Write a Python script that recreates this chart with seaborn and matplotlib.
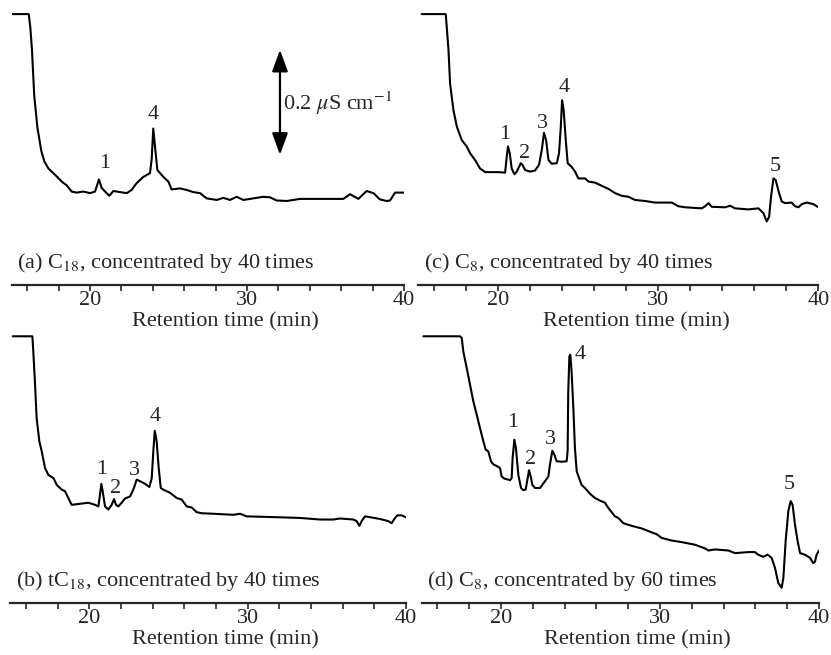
import numpy as np
import matplotlib
matplotlib.use("Agg")
import matplotlib.pyplot as plt
import seaborn as sns

# retention time (min) and conductivity signal (uS/cm, above the axis line)
a_time = [15.0, 16.1, 16.2, 16.3, 16.45, 16.65, 16.9, 17.1, 17.35, 17.77, 18.2, 18.51, 18.83, 19.15, 19.58, 20.0,
          20.32, 20.57, 20.74, 20.96, 21.23, 21.49, 21.91, 22.34, 22.65, 22.97, 23.4, 23.82, 23.93, 24.03, 24.14,
          24.29, 24.67, 24.99, 25.2, 25.73, 26.16, 26.58, 27.01, 27.43, 28.07, 28.49, 28.92, 29.34, 29.77, 30.19,
          31.04, 31.46, 31.89, 32.53, 33.38, 34.44, 35.5, 36.14, 36.56, 37.09, 37.62, 38.05, 38.47, 38.9, 39.11,
          39.43, 40.0]
a_signal = [0.516, 0.516, 0.49, 0.45, 0.36, 0.30, 0.255, 0.235, 0.222, 0.210, 0.197, 0.190, 0.178, 0.176, 0.178, 0.175,
            0.178, 0.201, 0.185, 0.178, 0.170, 0.179, 0.177, 0.175, 0.181, 0.194, 0.206, 0.213, 0.240, 0.298, 0.264,
            0.219, 0.206, 0.197, 0.182, 0.184, 0.181, 0.177, 0.175, 0.165, 0.162, 0.166, 0.162, 0.168, 0.162, 0.164,
            0.168, 0.167, 0.161, 0.160, 0.164, 0.164, 0.164, 0.164, 0.173, 0.164, 0.179, 0.175, 0.163, 0.160, 0.161,
            0.176, 0.176]

b_time = [15.16, 16.40, 16.46, 16.57, 16.67, 16.84, 16.99, 17.20, 17.41, 17.73, 17.94, 18.25, 18.46, 18.67, 18.88,
          19.41, 19.94, 20.36, 20.57, 20.67, 20.76, 20.84, 20.99, 21.20, 21.41, 21.56, 21.68, 21.83, 22.04, 22.25,
          22.57, 22.78, 22.99, 23.20, 23.52, 23.79, 23.94, 24.04, 24.13, 24.25, 24.38, 24.51, 24.67, 25.09, 25.52,
          25.83, 26.15, 26.46, 26.78, 27.09, 27.83, 29.09, 29.52, 29.94, 31.20, 33.31, 34.57, 35.41, 35.83, 36.67,
          36.88, 37.05, 37.20, 37.41, 37.62, 38.36, 38.88, 39.09, 39.24, 39.45, 39.73, 40.0]
b_signal = [0.508, 0.508, 0.479, 0.416, 0.352, 0.308, 0.289, 0.257, 0.244, 0.238, 0.225, 0.216, 0.213, 0.200, 0.187,
            0.189, 0.191, 0.187, 0.184, 0.206, 0.227, 0.213, 0.184, 0.178, 0.187, 0.198, 0.187, 0.184, 0.191, 0.199,
            0.203, 0.216, 0.235, 0.232, 0.227, 0.221, 0.238, 0.289, 0.328, 0.308, 0.257, 0.219, 0.216, 0.210, 0.200,
            0.197, 0.184, 0.182, 0.173, 0.171, 0.170, 0.168, 0.170, 0.165, 0.164, 0.162, 0.159, 0.159, 0.161, 0.159,
            0.156, 0.147, 0.156, 0.165, 0.164, 0.160, 0.156, 0.152, 0.159, 0.167, 0.167, 0.163]

c_time = [15.2, 16.71, 16.77, 16.88, 16.98, 17.19, 17.40, 17.71, 18.02, 18.23, 18.54, 18.85, 19.17, 20.0, 20.42,
          20.52, 20.60, 20.71, 20.83, 21.0, 21.15, 21.29, 21.40, 21.50, 21.67, 21.98, 22.29, 22.54, 22.71, 22.85,
          22.98, 23.13, 23.33, 23.65, 23.79, 23.90, 23.98, 24.08, 24.21, 24.33, 24.58, 24.79, 25.0, 25.42, 25.63,
          26.04, 26.46, 26.88, 27.29, 27.71, 28.13, 28.54, 29.17, 29.38, 29.79, 30.83, 31.25, 31.67, 32.71, 32.92,
          33.13, 33.33, 34.17, 34.48, 34.79, 35.63, 36.25, 36.56, 36.77, 36.92, 37.04, 37.19, 37.33, 37.54, 37.71,
          37.92, 38.33, 38.54, 38.75, 38.96, 39.27, 39.69, 40.0]
c_signal = [0.516, 0.516, 0.492, 0.448, 0.384, 0.333, 0.302, 0.276, 0.264, 0.251, 0.238, 0.222, 0.215, 0.215, 0.214,
            0.244, 0.264, 0.251, 0.222, 0.211, 0.216, 0.225, 0.232, 0.229, 0.219, 0.216, 0.218, 0.229, 0.257, 0.290,
            0.276, 0.238, 0.231, 0.232, 0.251, 0.302, 0.352, 0.333, 0.276, 0.232, 0.225, 0.216, 0.203, 0.203, 0.197,
            0.195, 0.189, 0.183, 0.175, 0.170, 0.168, 0.162, 0.160, 0.159, 0.157, 0.157, 0.150, 0.148, 0.146, 0.150,
            0.156, 0.149, 0.148, 0.151, 0.146, 0.144, 0.146, 0.137, 0.121, 0.130, 0.168, 0.203, 0.200, 0.175, 0.159,
            0.156, 0.157, 0.150, 0.148, 0.154, 0.157, 0.154, 0.148]

d_time = [15.12, 17.42, 17.53, 17.63, 17.84, 18.05, 18.26, 18.47, 18.68, 18.89, 19.04, 19.20, 19.37, 19.52, 19.79,
          19.94, 20.04, 20.21, 20.57, 20.67, 20.73, 20.84, 20.94, 21.09, 21.26, 21.40, 21.55, 21.68, 21.76, 21.87,
          21.97, 22.14, 22.45, 22.77, 22.98, 23.08, 23.23, 23.35, 23.50, 23.82, 24.13, 24.19, 24.23, 24.30, 24.36,
          24.44, 24.55, 24.65, 24.76, 24.91, 25.07, 25.28, 25.60, 25.91, 26.23, 26.54, 26.75, 26.96, 27.17, 27.38,
          27.69, 28.22, 28.85, 29.27, 29.79, 30.10, 30.73, 31.36, 32.20, 32.83, 33.04, 33.46, 34.30, 34.72, 35.56,
          35.97, 36.18, 36.50, 36.77, 37.02, 37.23, 37.44, 37.65, 37.76, 37.90, 38.07, 38.22, 38.34, 38.49, 38.66,
          38.81, 39.12, 39.43, 39.64, 39.75, 39.85, 40.0]
d_signal = [0.508, 0.508, 0.505, 0.479, 0.448, 0.416, 0.384, 0.359, 0.333, 0.308, 0.292, 0.289, 0.270, 0.264, 0.260,
            0.257, 0.241, 0.237, 0.234, 0.238, 0.276, 0.311, 0.295, 0.244, 0.219, 0.215, 0.216, 0.238, 0.253, 0.241,
            0.225, 0.219, 0.219, 0.232, 0.241, 0.264, 0.290, 0.283, 0.270, 0.269, 0.270, 0.289, 0.403, 0.470, 0.473,
            0.441, 0.371, 0.295, 0.251, 0.238, 0.225, 0.219, 0.208, 0.200, 0.195, 0.191, 0.181, 0.173, 0.165, 0.162,
            0.152, 0.147, 0.142, 0.137, 0.131, 0.124, 0.119, 0.116, 0.111, 0.104, 0.100, 0.102, 0.100, 0.095, 0.097,
            0.097, 0.092, 0.088, 0.092, 0.086, 0.067, 0.038, 0.029, 0.048, 0.117, 0.175, 0.194, 0.187, 0.149, 0.117,
            0.095, 0.092, 0.086, 0.076, 0.079, 0.092, 0.100]

# peak numbers and where they are written
a_peaks = ["1", "4"]
a_peak_x = [20.91, 24.03]
a_peak_y = [0.232, 0.324]
b_peaks = ["1", "2", "3", "4"]
b_peak_x = [20.78, 21.66, 22.84, 24.15]
b_peak_y = [0.254, 0.219, 0.253, 0.356]
c_peaks = ["1", "2", "3", "4", "5"]
c_peak_x = [20.42, 21.63, 22.77, 24.10, 37.33]
c_peak_y = [0.286, 0.251, 0.308, 0.377, 0.225]
d_peaks = ["1", "2", "3", "4", "5"]
d_peak_x = [20.71, 21.89, 23.08, 25.01, 38.11]
d_peak_y = [0.343, 0.273, 0.311, 0.474, 0.225]

titles = [r"(a) C$_{18}$, concentrated by 40 times",
          r"(b) tC$_{18}$, concentrated by 40 times",
          r"(c) C$_{8}$, concentrated by 40 times",
          r"(d) C$_{8}$, concentrated by 60 times"]

sns.set_style("white")
plt.rcParams['font.family'] = ['Liberation Serif', 'DejaVu Serif']
plt.rcParams['mathtext.fontset'] = 'stix'
FS = 16

W, H = 831, 655
UNIT = 0.2 / 105   # uS/cm per pixel, from the scale bar

fig = plt.figure(figsize=(W / 100, H / 100), dpi=100)


def make_axes(left, right, top, bottom):
    ax = fig.add_axes([left / W, 1 - bottom / H, (right - left) / W, (bottom - top) / H])
    ax.patch.set_alpha(0)
    ax.set_xlim(15, 40)
    ax.set_ylim(0, (bottom - top) * UNIT)
    for s in ["left", "right", "top"]:
        ax.spines[s].set_visible(False)
    ax.spines["bottom"].set_linewidth(1.6)
    ax.set_yticks([])
    ax.set_xticks([20, 30, 40])
    ax.set_xticks(np.arange(16, 40, 2), minor=True)
    ax.tick_params(axis="x", which="both", direction="out", length=4, width=1.2, pad=0.5, labelsize=FS, bottom=True)
    ax.set_xlabel("Retention time (min)", fontsize=FS)
    ax.xaxis.set_label_coords((28.6 - 15) / 25, -27 / (bottom - top))
    return ax


def draw_panel(ax, time, signal, title, peaks, px, py):
    sns.lineplot(x=time, y=signal, ax=ax, color="black", lw=1.5, estimator=None, sort=False)
    for lab, x, y in zip(peaks, px, py):
        ax.text(x, y, lab, ha="center", va="center", fontsize=FS)
    ax.text(15.35, 0.041, title, ha="left", va="center", fontsize=FS)


ax_a = make_axes(11.5, 404, 0, 285)
ax_c = make_axes(418.4, 818.4, 0, 285)
ax_b = make_axes(10.2, 406, 335, 603)
ax_d = make_axes(421.5, 819, 335, 603)

draw_panel(ax_a, a_time, a_signal, titles[0], a_peaks, a_peak_x, a_peak_y)
draw_panel(ax_b, b_time, b_signal, titles[1], b_peaks, b_peak_x, b_peak_y)
draw_panel(ax_c, c_time, c_signal, titles[2], c_peaks, c_peak_x, c_peak_y)
draw_panel(ax_d, d_time, d_signal, titles[3], d_peaks, d_peak_x, d_peak_y)

# 0.2 uS/cm scale bar
ax_a.annotate("", xy=(32.1, 0.448), xytext=(32.1, 0.248),
              arrowprops=dict(arrowstyle="<|-|>,head_length=0.6,head_width=0.22", color="black",
                              lw=1.6, mutation_scale=22, shrinkA=0, shrinkB=0))
ax_a.text(32.3, 0.347, r"0.2 $\mu$S cm$^{-1}$", ha="left", va="center", fontsize=FS)

plt.savefig("out.png", dpi=100)
